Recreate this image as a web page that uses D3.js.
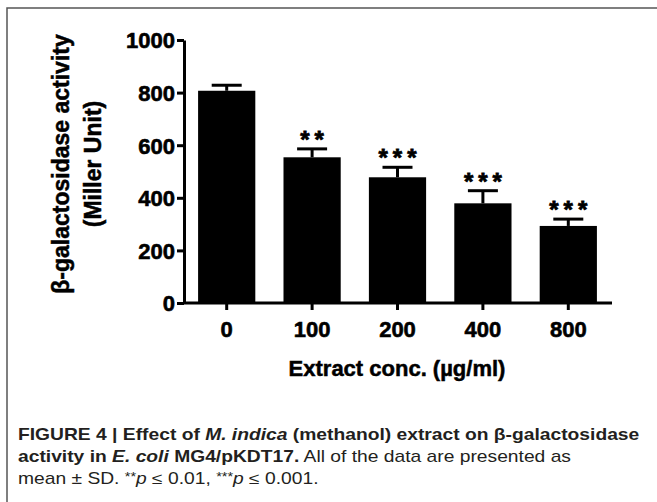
<!DOCTYPE html>
<html>
<head>
<meta charset="utf-8">
<script src="https://cdn.jsdelivr.net/npm/d3@7"></script>
<style>
  body { margin: 0; background: #fff; }
  svg { display: block; }
</style>
</head>
<body>
<div id="graph"></div>
<script>
// data
const concentrations = ['0', '100', '200', '400', '800'];
const activity = [807, 554, 478, 379, 293];
const sd = [21, 32, 38, 48, 26];
const stars = ['', '**', '***', '***', '***'];
const yTicks = [0, 200, 400, 600, 800, 1000];

const w = 657;
const h = 502;

const svg = d3.select('#graph')
    .append('svg')
    .attr('width', w)
    .attr('height', h);

// frame round the figure
svg.append('rect')
    .attr('x', 7)
    .attr('y', 8)
    .attr('width', 700)
    .attr('height', 600)
    .attr('fill', 'none')
    .attr('stroke', '#555')
    .attr('stroke-width', 1.5);

const chartFont = '"Liberation Sans", Arial, sans-serif';

// Scales
const xScale = d3.scaleBand()
    .domain(concentrations)
    .range([184, 611])
    .paddingInner(0.33)
    .paddingOuter(0.165);

const yScale = d3.scaleLinear()
    .domain([0, 1000])
    .range([303, 40]);

// Bars
svg.selectAll('rect.bar')
    .data(activity)
    .enter()
    .append('rect')
    .attr('class', 'bar')
    .attr('x', (d, i) => xScale(concentrations[i]))
    .attr('y', d => yScale(d))
    .attr('width', xScale.bandwidth())
    .attr('height', d => yScale(0) - yScale(d))
    .attr('fill', '#000');

// Error bars (upper only)
const err = svg.append('g').attr('id', 'errors');
activity.forEach((v, i) => {
    const cx = xScale(concentrations[i]) + xScale.bandwidth() / 2;
    err.append('line')
        .attr('x1', cx).attr('x2', cx)
        .attr('y1', yScale(v)).attr('y2', yScale(v + sd[i]))
        .attr('stroke', '#000').attr('stroke-width', 3);
    err.append('line')
        .attr('x1', cx - 15).attr('x2', cx + 15)
        .attr('y1', yScale(v + sd[i])).attr('y2', yScale(v + sd[i]))
        .attr('stroke', '#000').attr('stroke-width', 3);
});

// Significance marks
svg.selectAll('text.star')
    .data(stars)
    .enter()
    .append('text')
    .attr('class', 'star')
    .attr('x', (d, i) => xScale(concentrations[i]) + xScale.bandwidth() / 2 + 2.5)
    .attr('y', (d, i) => yScale(activity[i] + sd[i]) - 1)
    .attr('text-anchor', 'middle')
    .attr('stroke', '#000')
    .attr('stroke-width', 0.8)
    .style('font-family', chartFont)
    .style('font-weight', 'bold')
    .style('font-size', '24px')
    .style('letter-spacing', '5px')
    .text(d => d);

// Axes
const xAxis = d3.axisBottom(xScale).tickSize(7).tickSizeOuter(0).tickPadding(11);
const yAxis = d3.axisLeft(yScale).tickValues(yTicks).tickFormat(d3.format('d'))
    .tickSize(7).tickSizeOuter(0).tickPadding(2);

const gx = svg.append('g')
    .attr('id', 'x-axis')
    .attr('transform', 'translate(0, 303)')
    .call(xAxis);
gx.select('.domain').attr('d', 'M183,0H612');

const gy = svg.append('g')
    .attr('id', 'y-axis')
    .attr('transform', 'translate(184, 0)')
    .call(yAxis);

[gx, gy].forEach(g => {
    g.selectAll('path, line').attr('stroke', '#000').attr('stroke-width', 3);
    g.selectAll('text')
        .attr('fill', '#000')
        .attr('stroke', '#000')
        .attr('stroke-width', 0.6)
        .style('font-family', chartFont)
        .style('font-weight', 'bold')
        .style('font-size', '22px');
});
gy.selectAll('text').attr('dy', '0.36em');

// Axis titles
svg.append('text')
    .attr('x', 397)
    .attr('y', 376)
    .attr('text-anchor', 'middle')
    .attr('stroke', '#000')
    .attr('stroke-width', 0.5)
    .style('font-family', chartFont)
    .style('font-weight', 'bold')
    .style('font-size', '22px')
    .text('Extract conc. (µg/ml)');

const ytitle = svg.append('text')
    .attr('transform', 'translate(69, 164) rotate(-90)')
    .attr('text-anchor', 'middle')
    .attr('stroke', '#000')
    .attr('stroke-width', 0.5)
    .style('font-family', chartFont)
    .style('font-weight', 'bold')
    .style('font-size', '23px');
ytitle.append('tspan').attr('x', 0).attr('y', 0).text('β-galactosidase activity');
ytitle.append('tspan').attr('x', 0).attr('y', 32).text('(Miller Unit)');

// Caption
const capFont = '"Liberation Sans", Arial, sans-serif';
const captionLines = [
    [['FIGURE 4 | Effect of ', 'b'], ['M. indica', 'bi'], [' (methanol) extract on β-galactosidase', 'b']],
    [['activity in ', 'b'], ['E. coli', 'bi'], [' MG4/pKDT17.', 'b'], [' All of the data are presented as', 'n']],
    [['mean ± SD. ', 'n'], ['**', 'sup'], ['p', 'i'], [' ≤ 0.01, ', 'n'], ['***', 'sup'], ['p', 'i'], [' ≤ 0.001.', 'n']]
];
const captionY = [440, 462, 484];

const cap = svg.append('g').attr('id', 'caption');
const capTexts = captionLines.map((line, li) => {
    const t = cap.append('text')
        .attr('x', 0)
        .attr('y', captionY[li])
        .attr('fill', '#231f20')
        .style('font-family', capFont)
        .style('font-size', '16px');
    line.forEach(([s, k]) => {
        const ts = t.append('tspan').text(s);
        if (k === 'b' || k === 'bi') ts.style('font-weight', 'bold');
        if (k === 'bi' || k === 'i') ts.style('font-style', 'italic');
        if (k === 'sup') ts.style('font-size', '12px').attr('dy', -3);
        if (k === 'i') ts.attr('dy', 3);
    });
    return t;
});
// fit the first line to the width in the figure, same squeeze for all lines
const natural = capTexts[0].node().getComputedTextLength();
const sx = 622 / natural;
capTexts.forEach(t => t.attr('transform', `translate(18, 0) scale(${sx}, 1)`));
</script>
</body>
</html>
